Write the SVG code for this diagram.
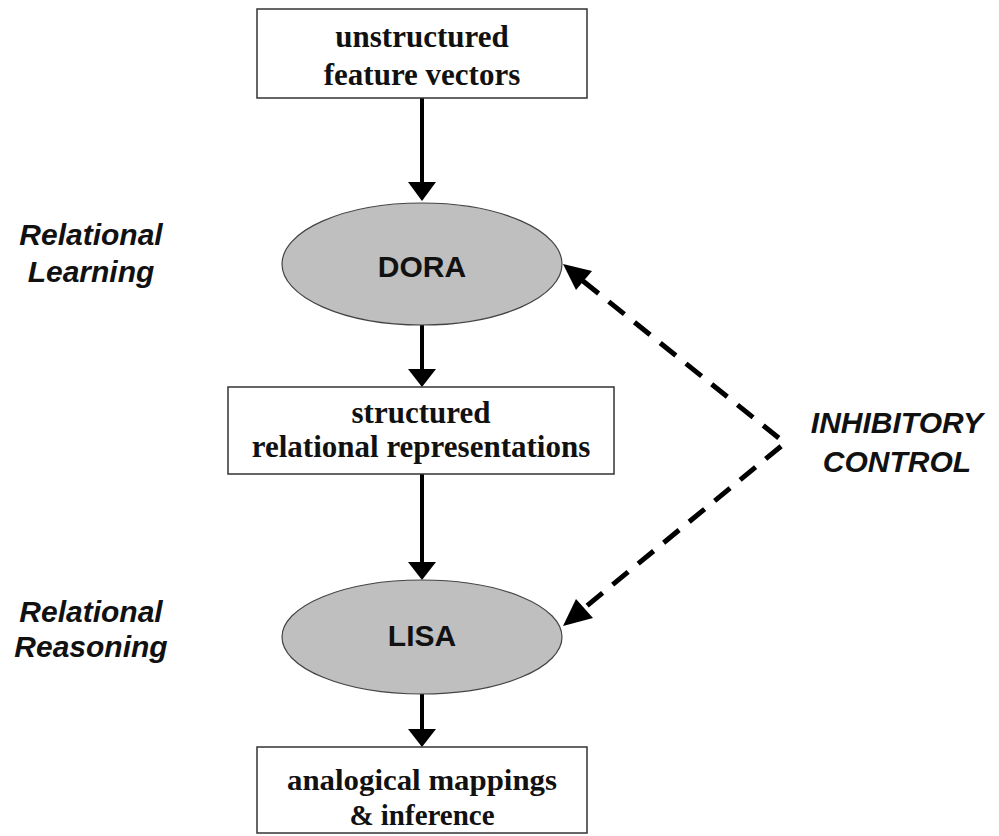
<svg xmlns="http://www.w3.org/2000/svg" width="999" height="836" viewBox="0 0 999 836">
<style>
.box{fill:#fff;stroke:#333;stroke-width:1.5}
.ell{fill:#bfbfbf;stroke:#444;stroke-width:1.2}
.serif{font-family:"Liberation Serif","Times New Roman",serif;font-weight:bold;font-size:31px;fill:#111;text-anchor:middle}
.sm{font-size:29px}
.sans{font-family:"Liberation Sans",Arial,sans-serif;font-weight:bold;font-size:30px;fill:#111;text-anchor:middle}
.ital{font-family:"Liberation Sans",Arial,sans-serif;font-weight:bold;font-style:italic;font-size:30px;fill:#111;text-anchor:middle}
.solid{stroke:#000;stroke-width:4;fill:none}
.dash{stroke:#000;stroke-width:5;fill:none;stroke-dasharray:20 13}
</style>
<rect width="999" height="836" fill="#fff"/>
<g id="connectors">
<line class="solid" x1="422" y1="98" x2="422" y2="182"/>
<path d="M408,182 L436,182 L422,201 z" fill="#000"/>
<line class="solid" x1="422" y1="325" x2="422" y2="369"/>
<path d="M408,369 L436,369 L422,387 z" fill="#000"/>
<line class="solid" x1="422" y1="474" x2="422" y2="562"/>
<path d="M408,562 L436,562 L422,580 z" fill="#000"/>
<line class="solid" x1="422" y1="694" x2="422" y2="729"/>
<path d="M408,729 L436,729 L422,747 z" fill="#000"/>
<path class="dash" d="M583,281 L785,443 L583,609"/>
<path d="M563,264 L592,271 L576,290 z" fill="#000"/>
<path d="M563,626 L576,599 L593,618 z" fill="#000"/>
</g>
<g id="n-unstructured">
<rect class="box" x="257" y="9" width="330" height="89"/>
<text class="serif" x="422" y="47">unstructured</text>
<text class="serif" x="422" y="85">feature vectors</text>
</g>
<g id="n-dora">
<ellipse class="ell" cx="422" cy="264" rx="140" ry="61"/>
<text class="sans" x="422" y="277">DORA</text>
</g>
<g id="n-structured">
<rect class="box" x="228" y="387" width="386" height="87"/>
<text class="serif" x="421" y="423">structured</text>
<text class="serif" x="421" y="457">relational representations</text>
</g>
<g id="n-lisa">
<ellipse class="ell" cx="422" cy="637" rx="140" ry="57"/>
<text class="sans" x="422" y="646">LISA</text>
</g>
<g id="n-analogical">
<rect class="box" x="257" y="747" width="330" height="86"/>
<text class="serif sm" x="422" y="790" textLength="270" lengthAdjust="spacingAndGlyphs">analogical mappings</text>
<text class="serif sm" x="422" y="825">&amp; inference</text>
</g>
<g id="labels">
<text class="ital" x="91" y="245">Relational</text>
<text class="ital" x="91" y="282">Learning</text>
<text class="ital" x="91" y="622">Relational</text>
<text class="ital" x="91" y="657">Reasoning</text>
<text class="ital" x="897" y="433">INHIBITORY</text>
<text class="ital" x="897" y="472">CONTROL</text>
</g>
</svg>
